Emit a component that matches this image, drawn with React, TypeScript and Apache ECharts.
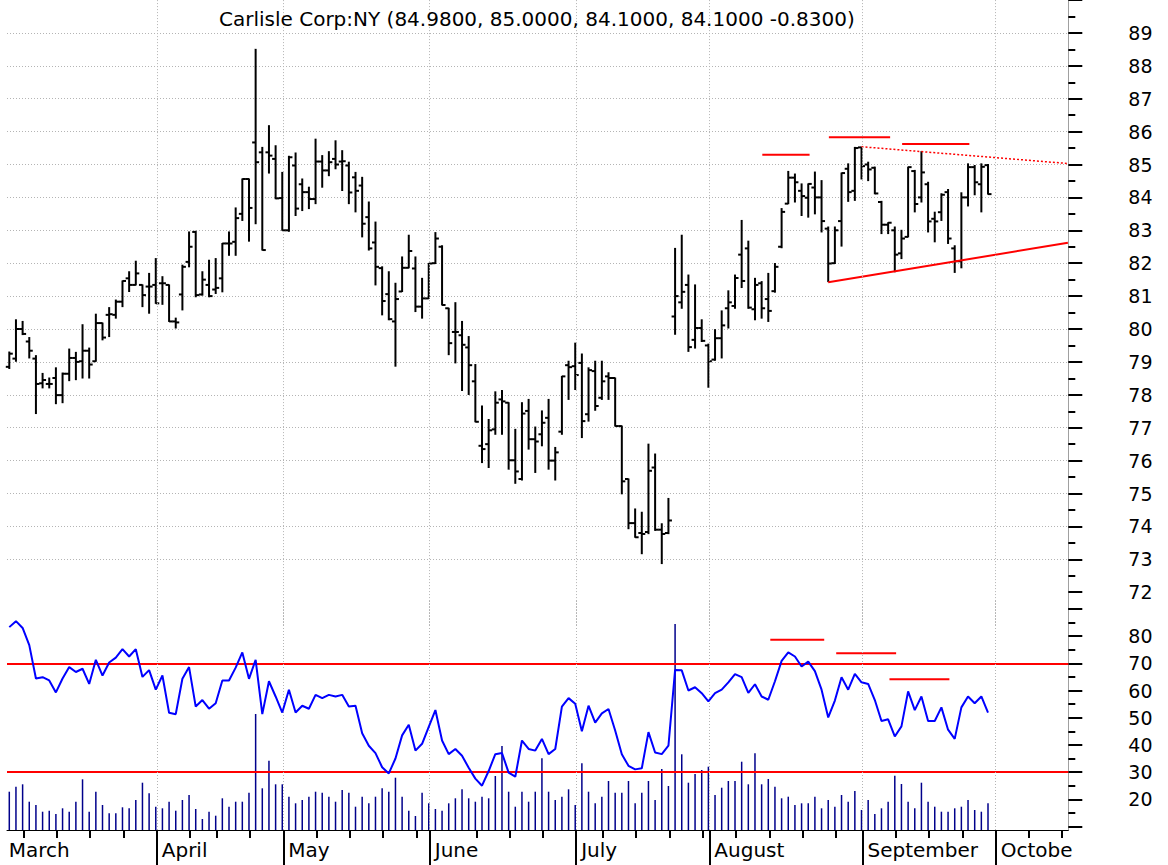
import React, { useEffect, useRef } from 'react';
import * as echarts from 'echarts';

const TITLE = 'Carlisle Corp:NY (84.9800, 85.0000, 84.1000, 84.1000 -0.8300)';

// Daily OHLC, trading days from 2 March to 29 September (index 0..147)
const OPEN = [
  78.85, 79.1, 80.0, 79.62, 79.1, 78.35, 78.33, 78.51, 77.99, 78.64,
  79.12, 79.02, 79.34, 79.02, 80.18, 80.43, 80.43, 80.83, 81.54, 81.34,
  81.34, 81.29, 81.34, 81.39, 81.34, 80.23, 81.05, 82.04, 82.95, 81.05,
  81.34, 81.2, 81.54, 82.6, 82.65, 83.5, 84.56, 85.67, 85.37, 85.37,
  85.17, 83.98, 83.0, 84.97, 84.4, 84.16, 83.95, 85.09, 84.82, 85.17,
  85.09, 84.97, 84.61, 84.36, 83.4, 82.63, 81.85, 81.06, 80.23, 81.14,
  81.86, 81.84, 80.68, 80.93, 82.0, 82.5, 80.63, 79.91, 79.81, 79.44,
  78.41, 76.45, 76.5, 76.95, 77.86, 77.76, 76.01, 75.44, 77.51, 76.65,
  76.8, 77.3, 76.0, 76.88, 78.9, 78.87, 78.97, 77.41, 78.72, 77.91,
  78.56, 78.51, 77.05, 75.44, 74.1, 73.8, 73.83, 75.79, 73.9, 73.8,
  80.38, 80.81, 81.34, 79.67, 80.03, 79.5, 79.07, 79.72, 80.63, 80.7,
  82.26, 82.45, 80.6, 81.39, 80.91, 81.15, 82.5, 83.81, 84.6, 84.2,
  83.99, 84.3, 84.0, 83.05, 82.0, 83.28, 84.87, 84.2, 85.52, 85.0,
  84.9, 83.86, 83.17, 83.0, 82.3, 82.8, 84.8, 84.0, 84.4, 83.35,
  83.55, 84.16, 82.45, 82.06, 84.0, 84.92, 84.4, 84.98,
];
const HIGH = [
  79.3, 80.28, 80.23, 79.74, 79.19, 78.65, 78.51, 78.82, 78.66, 79.39,
  79.29, 80.13, 79.42, 80.45, 80.18, 80.65, 80.88, 81.46, 81.74, 82.06,
  81.34, 81.69, 82.14, 81.59, 81.34, 80.33, 81.94, 82.95, 82.97, 81.74,
  82.09, 82.14, 82.6, 82.95, 83.68, 84.56, 84.56, 88.5, 85.52, 86.18,
  85.57, 84.76, 85.25, 85.35, 84.56, 84.31, 85.77, 85.27, 85.39, 85.72,
  85.42, 85.07, 84.76, 84.61, 83.86, 83.25, 81.89, 81.74, 81.39, 82.19,
  82.85, 82.19, 81.54, 81.99, 82.93, 82.53, 80.63, 80.8, 80.23, 79.77,
  78.92, 77.66, 77.25, 78.09, 78.13, 77.76, 76.95, 77.76, 77.86, 77.02,
  77.51, 77.86, 76.4, 78.56, 79.02, 79.57, 79.24, 78.82, 79.02, 79.02,
  78.67, 78.51, 77.05, 75.44, 74.53, 74.43, 76.5, 76.2, 74.08, 74.85,
  82.45, 82.85, 81.64, 81.34, 80.28, 79.54, 79.98, 80.55, 81.16, 81.64,
  83.3, 82.67, 81.54, 81.44, 81.69, 81.99, 83.66, 84.79, 84.71, 84.41,
  84.41, 84.77, 84.51, 83.1, 83.1, 84.74, 85.02, 85.52, 85.52, 85.07,
  84.92, 83.88, 83.23, 83.1, 83.0, 84.92, 84.82, 85.39, 84.46, 83.55,
  84.11, 84.24, 82.53, 84.14, 85.02, 84.97, 85.02, 85.0,
];
const LOW = [
  78.8, 79.02, 79.83, 79.12, 77.43, 78.21, 78.21, 77.73, 77.76, 78.43,
  78.46, 78.51, 78.51, 79.02, 79.67, 79.77, 80.33, 80.68, 81.14, 81.34,
  80.68, 80.48, 80.78, 80.75, 80.23, 80.03, 80.58, 81.89, 80.98, 81.03,
  80.98, 81.08, 81.13, 82.24, 82.24, 83.3, 82.67, 83.2, 82.4, 84.74,
  83.96, 83.0, 82.97, 83.45, 83.6, 83.66, 83.81, 84.31, 84.66, 84.87,
  84.21, 83.81, 83.56, 82.8, 82.4, 81.34, 80.43, 80.28, 78.87, 81.14,
  81.86, 80.53, 80.33, 80.93, 81.99, 80.73, 79.22, 78.97, 78.13, 78.01,
  77.18, 75.94, 75.79, 76.8, 76.8, 75.74, 75.31, 75.41, 76.35, 75.64,
  76.45, 75.74, 75.41, 76.8, 77.86, 78.16, 76.7, 77.2, 77.53, 77.86,
  77.86, 77.05, 74.99, 73.93, 73.67, 73.17, 73.78, 73.88, 72.87, 73.78,
  79.84, 80.63, 79.32, 79.42, 79.62, 78.23, 79.05, 79.12, 80.03, 80.63,
  81.26, 80.63, 80.28, 80.33, 80.23, 81.12, 82.47, 83.81, 83.86, 83.45,
  83.4, 83.5, 82.95, 81.44, 81.99, 82.52, 83.88, 83.91, 84.56, 84.51,
  84.11, 82.9, 82.9, 81.74, 82.14, 82.8, 83.56, 83.86, 82.95, 82.65,
  83.3, 82.6, 81.72, 81.86, 83.74, 84.08, 83.56, 84.1,
];
const CLOSE = [
  79.25, 80.0, 79.85, 79.34, 78.33, 78.45, 78.33, 77.99, 78.64, 79.12,
  79.0, 79.34, 78.92, 80.18, 79.74, 80.45, 80.83, 81.46, 81.34, 81.69,
  81.03, 81.29, 80.78, 81.39, 80.23, 80.2, 81.89, 82.5, 81.03, 81.5,
  81.0, 81.25, 82.6, 82.6, 83.37, 84.56, 83.68, 85.07, 82.4, 85.27,
  83.97, 83.0, 85.22, 83.66, 84.16, 83.95, 85.09, 84.82, 85.07, 85.0,
  85.1, 84.15, 84.2, 83.2, 82.45, 81.89, 80.85, 80.3, 80.91, 81.86,
  82.37, 80.68, 80.93, 81.99, 82.75, 80.73, 79.57, 79.91, 79.52, 78.9,
  77.18, 76.35, 76.92, 77.76, 77.8, 76.01, 75.67, 77.43, 76.65, 76.58,
  77.15, 76.0, 76.25, 78.56, 78.84, 78.6, 77.2, 78.75, 77.66, 78.41,
  78.51, 77.05, 75.37, 74.1, 73.67, 73.77, 75.69, 73.9, 73.77, 74.18,
  81.0, 81.13, 79.45, 80.03, 79.64, 79.02, 79.72, 80.11, 80.81, 81.55,
  81.46, 80.65, 81.34, 80.63, 80.55, 81.89, 83.56, 84.6, 84.46, 84.04,
  84.41, 84.0, 83.28, 81.99, 83.0, 84.74, 84.16, 85.5, 84.95, 84.85,
  84.12, 83.17, 83.23, 82.26, 82.75, 84.92, 83.8, 84.76, 83.27, 83.27,
  84.08, 82.75, 82.06, 84.0, 84.92, 84.46, 84.93, 84.1,
];
const RSI = [
  83.3, 85.5, 83.0, 76.7, 64.4, 64.9, 63.7, 59.3, 64.4, 68.6,
  66.8, 68.0, 62.4, 71.3, 65.5, 70.3, 72.1, 75.2, 72.5, 75.2,
  65.0, 67.5, 60.3, 65.5, 51.8, 51.3, 64.3, 68.6, 54.1, 56.5,
  53.3, 55.3, 63.7, 63.7, 68.4, 74.0, 64.3, 71.3, 51.3, 63.4,
  57.8, 51.9, 60.3, 51.9, 54.4, 53.3, 58.4, 57.2, 58.4, 57.8,
  58.4, 54.1, 54.4, 44.3, 39.7, 37.0, 31.8, 29.5, 35.0, 43.5,
  47.4, 37.9, 40.4, 46.6, 52.8, 41.6, 36.6, 38.5, 36.0, 31.6,
  27.6, 25.0, 30.4, 36.6, 37.0, 29.8, 28.3, 41.6, 38.5, 37.9,
  42.2, 36.6, 38.5, 54.1, 57.2, 55.1, 45.0, 54.4, 48.2, 51.6,
  53.2, 45.3, 36.6, 32.3, 31.0, 31.4, 44.7, 37.2, 36.6, 39.7,
  67.5, 67.4, 60.0, 61.2, 59.0, 56.0, 59.0, 60.3, 63.0, 66.0,
  64.9, 59.1, 62.3, 57.8, 56.6, 63.4, 70.9, 74.0, 72.5, 68.8,
  70.6, 67.1, 60.3, 50.1, 56.3, 64.9, 60.3, 66.1, 63.0, 62.4,
  56.5, 48.8, 49.4, 43.1, 46.8, 59.7, 52.8, 57.8, 48.8, 48.8,
  53.8, 45.6, 42.2, 53.8, 57.8, 55.3, 57.8, 51.9,
];
// Volume in thousands of shares
const VOLUME = [
  383, 433, 457, 283, 250, 183, 193, 160, 217, 183,
  283, 507, 183, 383, 250, 167, 167, 227, 217, 300,
  473, 367, 233, 217, 283, 193, 300, 350, 210, 110,
  183, 143, 317, 233, 283, 283, 373, 1160, 417, 693,
  457, 457, 333, 267, 300, 333, 383, 373, 333, 283,
  400, 373, 233, 333, 267, 333, 417, 383, 523, 333,
  193, 140, 373, 267, 210, 193, 267, 317, 407, 317,
  283, 333, 317, 540, 840, 383, 233, 383, 283, 383,
  717, 383, 300, 333, 407, 250, 667, 383, 267, 333,
  490, 373, 373, 490, 267, 373, 490, 300, 610, 440,
  2060, 757, 473, 560, 600, 633, 350, 423, 490, 490,
  683, 457, 767, 457, 510, 433, 317, 333, 250, 267,
  267, 333, 217, 300, 233, 350, 283, 390, 200, 300,
  160, 217, 283, 543, 460, 283, 217, 473, 283, 233,
  183, 183, 217, 233, 300, 200, 183, 267,
];

const MONTH_NAMES = ['March', 'April', 'May', 'June', 'July', 'August', 'September', 'October'];
const MONTH_START = [-1, 22, 41, 63, 85, 105, 128, 148];
const WEEK_START = [2, 7, 12, 17, 27, 31, 36, 46, 51, 56, 61, 70, 75, 80, 89, 94, 99, 104, 109, 114, 119, 124, 133, 138, 143, 153, 158];
const PRICE_TICKS_MIN = 71;
const PRICE_TICKS_MAX = 90;
const PRICE_LABEL_MIN = 72;
const PRICE_LABEL_MAX = 89;
const RSI_LEVELS = [70, 30];
const SUPPORT_LINE = [[123, 81.42], [159, 82.62]];
const RESISTANCE_LINE = [[128, 85.54], [159, 85.03]];
const PRICE_PEAK_MARKS = [[113.1, 120.2, 85.3], [123.1, 132.3, 85.83], [134.1, 144.2, 85.62]];
const RSI_PEAK_MARKS = [[114.3, 122.4, 78.7], [124.2, 133.2, 73.7], [132.2, 141.2, 64.1]];

const FONT = "'DejaVu Sans', Verdana, sans-serif";
const XMIN = -0.345;
const XMAX = 159.06;
const TICK_SHIFT = 0.15;
const LABEL_SHIFT = 0.9;

function buildOption() {
  const monthTickVals = MONTH_START.filter((m) => m >= 0).map((m) => m + TICK_SHIFT);
  const monthLabelVals = MONTH_START.map((m) => m + LABEL_SHIFT);
  const lastLabel = monthLabelVals.length - 1;
  const weekTickVals = WEEK_START.map((w) => w + TICK_SHIFT);
  const priceTickVals: number[] = [];
  for (let v = PRICE_LABEL_MIN; v <= PRICE_TICKS_MAX; v++) priceTickVals.push(v);
  const ohlc = OPEN.map((o, i) => [i, o, HIGH[i], LOW[i], CLOSE[i]]);
  const gridLine = { color: '#b4b4b4', width: 1, type: [1, 2] as any };
  const vLines = {
    silent: true,
    symbol: ['none', 'none'],
    label: { show: false },
    lineStyle: gridLine,
    emphasis: { disabled: true },
    data: monthTickVals.map((v) => ({ xAxis: v })),
  };
  const baseX = { type: 'value', min: XMIN, max: XMAX, show: false };
  const monthName = (v: number) => {
    const k = monthLabelVals.findIndex((m) => Math.abs(m - v) < 0.01);
    return k >= 0 ? MONTH_NAMES[k] : '';
  };
  const labelStyle = {
    show: true,
    formatter: monthName,
    align: 'left',
    margin: 10,
    fontFamily: FONT,
    fontSize: 20,
    color: '#000',
  };
  const segSeries = (segs: number[][], xi: number, yi: number) =>
    segs.map((s) => ({
      type: 'line',
      xAxisIndex: xi,
      yAxisIndex: yi,
      data: [[s[0], s[2]], [s[1], s[2]]],
      symbol: 'none',
      silent: true,
      lineStyle: { color: '#ff0000', width: 2 },
      z: 4,
    }));

  return {
    animation: false,
    backgroundColor: '#ffffff',
    title: {
      text: TITLE,
      left: 219,
      top: 9,
      padding: 0,
      textStyle: { fontFamily: FONT, fontSize: 20, fontWeight: 'normal', color: '#000' },
    },
    grid: [
      { left: 7, right: 99.7, top: -3.06, height: 628.16 },
      { left: 7, right: 99.7, top: 608.9, height: 217.6 },
      { left: 7, right: 99.7, top: 600, height: 230 },
    ],
    xAxis: [
      { ...baseX, gridIndex: 0 },
      { ...baseX, gridIndex: 1 },
      {
        type: 'value', gridIndex: 2, min: XMIN, max: XMAX, position: 'bottom',
        axisLine: { show: true, onZero: false, lineStyle: { color: '#000', width: 1 } },
        axisTick: { show: true, customValues: weekTickVals, length: 8, lineStyle: { color: '#000', width: 2 } },
        axisLabel: { show: false },
        splitLine: { show: false },
      },
      {
        type: 'value', gridIndex: 2, min: XMIN, max: XMAX, position: 'bottom',
        axisLine: { show: false, onZero: false },
        axisTick: { show: true, customValues: monthTickVals, length: 35, lineStyle: { color: '#000', width: 2 } },
        axisLabel: { ...labelStyle, customValues: monthLabelVals.slice(0, lastLabel) },
        splitLine: { show: false },
      },
      {
        // the last month name runs into the right edge of the plot and is cut there
        type: 'value', gridIndex: 2, min: XMIN, max: XMAX, position: 'bottom',
        axisLine: { show: false, onZero: false },
        axisTick: { show: false },
        axisLabel: {
          ...labelStyle,
          customValues: [monthLabelVals[lastLabel]],
          width: 73,
          overflow: 'truncate',
          ellipsis: '',
        },
        splitLine: { show: false },
      },
    ],
    yAxis: [
      {
        type: 'value', gridIndex: 0, position: 'right', min: PRICE_TICKS_MIN, max: PRICE_TICKS_MAX, interval: 1,
        axisLine: { show: true, onZero: false, lineStyle: { color: '#a0a0a0', width: 1 } },
        axisTick: { show: true, customValues: priceTickVals, length: 14, lineStyle: { color: '#000', width: 2 } },
        minorTick: { show: true, splitNumber: 2, length: 7, lineStyle: { color: '#000', width: 2 } },
        axisLabel: {
          margin: 60, fontFamily: FONT, fontSize: 19, color: '#000',
          formatter: (v: number) => (v >= PRICE_LABEL_MIN && v <= PRICE_LABEL_MAX ? String(v) : ''),
        },
        splitLine: { show: true, showMinLine: false, showMaxLine: false, lineStyle: gridLine },
      },
      {
        type: 'value', gridIndex: 1, position: 'right', min: 10, max: 90, interval: 10,
        axisLine: { show: true, onZero: false, lineStyle: { color: '#a0a0a0', width: 1 } },
        axisTick: { show: true, length: 14, lineStyle: { color: '#000', width: 2 } },
        minorTick: { show: true, splitNumber: 2, length: 7, lineStyle: { color: '#000', width: 2 } },
        axisLabel: {
          margin: 60, fontFamily: FONT, fontSize: 19, color: '#000',
          formatter: (v: number) => (v >= 20 && v <= 80 ? String(v) : ''),
        },
        splitLine: { show: false },
      },
      {
        type: 'value', gridIndex: 2, position: 'right', min: 0, max: 2300,
        axisLine: { show: true, onZero: false, lineStyle: { color: '#a0a0a0', width: 1 } },
        axisTick: { show: false },
        axisLabel: { show: false },
        splitLine: { show: false },
      },
    ],
    series: [
      {
        type: 'line',
        xAxisIndex: 0,
        yAxisIndex: 0,
        data: SUPPORT_LINE,
        symbol: 'none',
        silent: true,
        lineStyle: { color: '#ff0000', width: 2 },
        z: 4,
        markLine: vLines,
      },
      {
        type: 'line',
        xAxisIndex: 0,
        yAxisIndex: 0,
        data: RESISTANCE_LINE,
        symbol: 'none',
        silent: true,
        lineStyle: { color: '#ff0000', width: 1.5, type: [2, 2] },
        z: 4,
      },
      ...segSeries(PRICE_PEAK_MARKS, 0, 0),
      {
        type: 'custom',
        xAxisIndex: 0,
        yAxisIndex: 0,
        data: ohlc,
        encode: { x: 0, y: [1, 2, 3, 4] },
        silent: true,
        z: 3,
        renderItem: (_params: any, api: any) => {
          const i = api.value(0);
          const pO = api.coord([i, api.value(1)]);
          const pH = api.coord([i, api.value(2)]);
          const pL = api.coord([i, api.value(3)]);
          const pC = api.coord([i, api.value(4)]);
          const x = pH[0];
          const st = { stroke: '#000', lineWidth: 2 };
          return {
            type: 'group',
            children: [
              { type: 'line', shape: { x1: x, y1: pH[1] - 0.5, x2: x, y2: pL[1] + 0.5 }, style: st },
              { type: 'line', shape: { x1: x - 3.5, y1: pO[1], x2: x, y2: pO[1] }, style: st },
              { type: 'line', shape: { x1: x, y1: pC[1], x2: x + 3.5, y2: pC[1] }, style: st },
            ],
          };
        },
      },
      {
        type: 'line',
        xAxisIndex: 1,
        yAxisIndex: 1,
        data: RSI.map((r, i) => [i, r]),
        symbol: 'none',
        silent: true,
        lineStyle: { color: '#0000ff', width: 2 },
        z: 5,
        markLine: {
          silent: true,
          symbol: ['none', 'none'],
          label: { show: false },
          lineStyle: { color: '#ff0000', width: 2, type: 'solid' },
          data: RSI_LEVELS.map((v) => ({ yAxis: v })),
        },
      },
      ...segSeries(RSI_PEAK_MARKS, 1, 1),
      {
        type: 'bar',
        xAxisIndex: 2,
        yAxisIndex: 2,
        data: VOLUME.map((v, i) => [i, v]),
        barWidth: 1.5,
        silent: true,
        itemStyle: { color: '#00008b' },
        z: 2,
        markLine: vLines,
      },
    ],
  };
}

export default function App() {
  const ref = useRef<HTMLDivElement>(null);
  useEffect(() => {
    if (!ref.current) return;
    const chart = echarts.init(ref.current, null, { renderer: 'svg' });
    chart.setOption(buildOption() as any);
    return () => chart.dispose();
  }, []);
  return (
    <div
      ref={ref}
      style={{ position: 'fixed', left: 0, top: 0, width: 1168, height: 865, background: '#ffffff' }}
    />
  );
}
